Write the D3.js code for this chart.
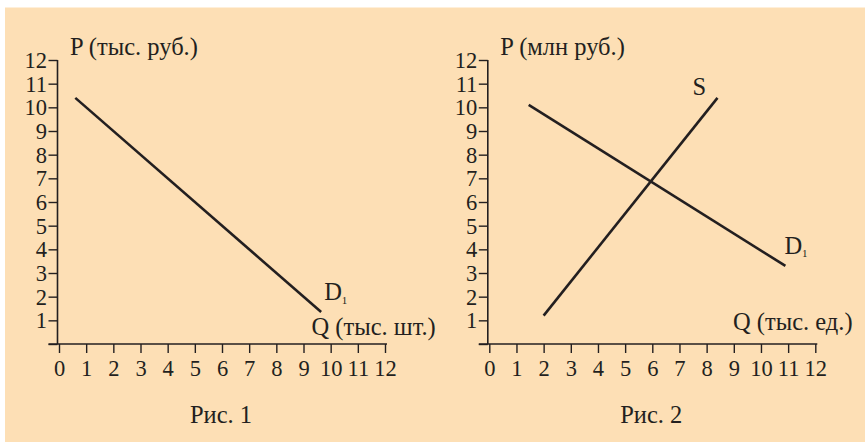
<!DOCTYPE html>
<html>
<head>
<meta charset="utf-8">
<script src="https://cdn.jsdelivr.net/npm/d3@7"></script>
<style>
  html, body { margin: 0; padding: 0; background: #ffffff; }
  svg { display: block; }
  text { font-family: "Liberation Serif", "Times New Roman", serif; fill: #231f20; }
</style>
</head>
<body>
<svg id="chart" width="865" height="442"></svg>
<script>
// ---- data ----
const xTicks = [0, 1, 2, 3, 4, 5, 6, 7, 8, 9, 10, 11, 12];
const yTicks = [0, 1, 2, 3, 4, 5, 6, 7, 8, 9, 10, 11, 12];
const yTickLabels = ["", "1", "2", "3", "4", "5", "6", "7", "8", "9", "10", "11", "12"];

const demand1 = [{ q: 0.6, p: 10.4 }, { q: 9.65, p: 1.35 }];
const demand2 = [{ q: 1.45, p: 10.1 }, { q: 10.9, p: 3.3 }];
const supply2 = [{ q: 2.0, p: 1.2 }, { q: 8.4, p: 10.4 }];

const panels = [
  { x0: 59, pLabel: "P (тыс. руб.)", qLabel: "Q (тыс. шт.)", qLabelPos: [311.5, 335], caption: "Рис. 1",
    series: [{ name: "D", sub: "1", data: demand1, labelDx: 3, labelDy: -12 }] },
  { x0: 489.3, pLabel: "P (млн руб.)", qLabel: "Q (тыс. ед.)", qLabelPos: [733, 330], caption: "Рис. 2",
    series: [{ name: "D", sub: "1", data: demand2, labelDx: -1, labelDy: -12 },
             { name: "S", sub: "", data: supply2, labelDx: -25, labelDy: -3 }] }
];

const ink = "#231f20";
const svg = d3.select("#chart");

// background
svg.append("rect").attr("x", 5).attr("y", 7.5).attr("width", 860).attr("height", 434.5)
  .attr("fill", "#fddfb5");

panels.forEach(pn => {
  const x = d3.scaleLinear().domain([0, 12]).range([pn.x0, pn.x0 + 326]);
  const y = d3.scaleLinear().domain([0, 12]).range([344, 60]);
  const axX = x(0) - 1.5;
  const g = svg.append("g");

  // y axis
  const yAxis = d3.axisLeft(y).tickValues(yTicks).tickSize(9).tickPadding(1.5)
    .tickFormat((d, i) => yTickLabels[i]);
  const ya = g.append("g").attr("transform", `translate(${axX},0)`).call(yAxis);
  ya.select(".domain").remove();
  ya.selectAll(".tick line").attr("stroke", ink).attr("stroke-width", 1.4);
  ya.selectAll(".tick text").attr("font-size", 22.5).attr("fill", ink)
    .attr("font-family", "Liberation Serif, serif").attr("dy", "0.34em");
  g.append("line").attr("x1", axX).attr("x2", axX).attr("y1", y(12)).attr("y2", y(0))
    .attr("stroke", ink).attr("stroke-width", 1.6);

  // x axis
  const xAxis = d3.axisBottom(x).tickValues(xTicks).tickSize(9).tickPadding(9.5);
  const xa = g.append("g").attr("transform", `translate(0,${y(0)})`).call(xAxis);
  xa.select(".domain").remove();
  xa.selectAll(".tick line").attr("stroke", ink).attr("stroke-width", 1.4);
  xa.selectAll(".tick text").attr("font-size", 22.5).attr("fill", ink)
    .attr("font-family", "Liberation Serif, serif").attr("dy", "0.6em");
  g.append("line").attr("x1", axX - 9).attr("x2", x(12) + 2).attr("y1", y(0)).attr("y2", y(0))
    .attr("stroke", ink).attr("stroke-width", 1.6);

  // lines
  const line = d3.line().x(d => x(d.q)).y(d => y(d.p));
  pn.series.forEach(s => {
    g.append("path").attr("d", line(s.data)).attr("fill", "none")
      .attr("stroke", ink).attr("stroke-width", 2.6);
    const end = s.data[s.data.length - 1];
    const t = g.append("text").attr("x", x(end.q) + s.labelDx).attr("y", y(end.p) + s.labelDy)
      .attr("font-size", 24.5);
    t.append("tspan").text(s.name);
    if (s.sub) t.append("tspan").attr("font-size", 11).attr("dy", 3.5).text(s.sub);
  });

  // axis titles
  g.append("text").attr("x", axX + 12.5).attr("y", 55).attr("font-size", 24.5).text(pn.pLabel);
  g.append("text").attr("x", pn.qLabelPos[0]).attr("y", pn.qLabelPos[1]).attr("font-size", 24.5).text(pn.qLabel);
  g.append("text").attr("x", x(6) - 1).attr("y", 423).attr("text-anchor", "middle")
    .attr("font-size", 24.5).text(pn.caption);
});
</script>
</body>
</html>
